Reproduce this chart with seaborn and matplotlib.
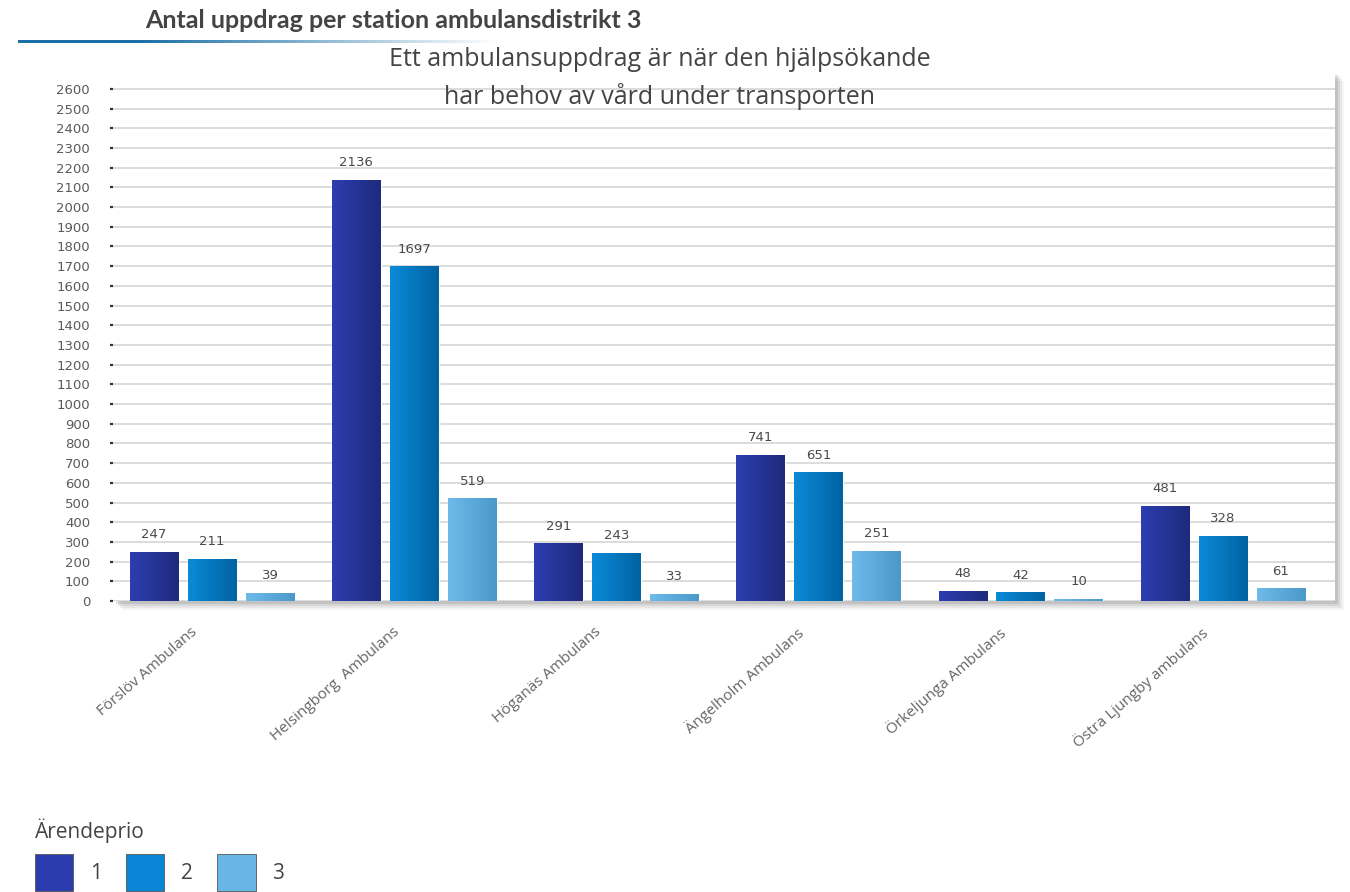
import numpy as np
import pandas as pd
import matplotlib
matplotlib.use("Agg")
from matplotlib import pyplot as plt
from matplotlib.patches import Rectangle, Patch
from matplotlib.colors import to_rgb
import seaborn as sns

stations = ['Förslöv Ambulans', 'Helsingborg  Ambulans', 'Höganäs Ambulans',
            'Ängelholm Ambulans', 'Örkeljunga Ambulans', 'Östra Ljungby ambulans']
prio_levels = ['1', '2', '3']
prio1 = [247, 2136, 291, 741, 48, 481]
prio2 = [211, 1697, 243, 651, 42, 328]
prio3 = [39, 519, 33, 251, 10, 61]
yticks = list(range(0, 2700, 100))

flat_colors = {'1': '#2a3cae', '2': '#0a84d4', '3': '#68b6e6'}
grad_colors = {'1': ('#2c3eb0', '#1e2a7c'),
               '2': ('#0b8ad8', '#0063a2'),
               '3': ('#6ebbea', '#4a99c8')}

rows = []
for prio, vals in zip(prio_levels, [prio1, prio2, prio3]):
    for st, v in zip(stations, vals):
        rows.append({'Station': st, 'Ärendeprio': prio, 'Antal': v})
df = pd.DataFrame(rows)

sns.set_theme(style='white')
plt.rcParams['font.family'] = ['DejaVu Sans']

fig = plt.figure(figsize=(13.5, 8.92), dpi=100)
W, H = 1350, 892
ax_left, ax_right, ax_bottom, ax_top = 113, 1335, 601, 72
ax = fig.add_axes([ax_left / W, 1 - ax_bottom / H,
                   (ax_right - ax_left) / W, (ax_bottom - ax_top) / H])
ax.set_zorder(2)

# plot area drop shadow
for off, alpha in [(9, 0.08), (7, 0.12), (5, 0.18), (3, 0.25)]:
    fig.patches.append(Rectangle(((ax_left + off) / W, (1 - ax_bottom / H) - off / H),
                                 (ax_right - ax_left) / W, (ax_bottom - ax_top) / H,
                                 transform=fig.transFigure, facecolor='#8a8a8a',
                                 alpha=alpha, edgecolor='none', zorder=-5))

sns.barplot(data=df, x='Station', y='Antal', hue='Ärendeprio', hue_order=prio_levels,
            palette=flat_colors, width=0.86, gap=0.16, saturation=1,
            legend=False, ax=ax, zorder=3)

xlim = (-0.49, 5.554)
ylim = (0, 2686)

# horizontal gradient on each bar
for prio, cont in zip(prio_levels, ax.containers):
    c0, c1 = (np.array(to_rgb(c)) for c in grad_colors[prio])
    t = np.linspace(0, 1, 40)[:, None]
    grad = (c0 * (1 - t) + c1 * t)[None, :, :]
    for bar in cont:
        x0, y0 = bar.get_xy()
        w, h = bar.get_width(), bar.get_height()
        ax.imshow(grad, extent=[x0, x0 + w, y0, y0 + h], aspect='auto',
                  interpolation='bilinear', zorder=3.5)
        bar.set_facecolor('none')
    ax.bar_label(cont, padding=8, fontsize=9.5, color='#4a4a4a')

ax.set_xlim(*xlim)
ax.set_ylim(*ylim)
ax.set_facecolor('white')
ax.set_yticks(yticks)
ax.set_yticklabels([str(v) for v in yticks], fontsize=9.5, color='#5a5a5a')
ax.yaxis.grid(True, color='#d9d9d9', linewidth=1.3, zorder=0)
ax.set_axisbelow(True)
ax.tick_params(axis='y', length=2.5, width=1.6, color='#333333', pad=14, left=True)
ax.tick_params(axis='x', length=0, pad=6)
for s in ax.spines.values():
    s.set_visible(False)
ax.set_xlabel('')
ax.set_ylabel('')

ax.set_xticks(range(len(stations)))
ax.set_xticklabels(stations, rotation=41, ha='right', va='top', rotation_mode='anchor',
                   fontsize=11, color='#666666', family='Open Sans')
offset = matplotlib.transforms.ScaledTranslation(-22 / 100, -15 / 100, fig.dpi_scale_trans)
for lbl in ax.get_xticklabels():
    lbl.set_transform(lbl.get_transform() + offset)

# header title with gradient underline
fig.text(145 / W, 1 - 20 / H, 'Antal uppdrag per station ambulansdistrikt 3',
         fontsize=18, fontweight='bold', color='#444444', family='Lato',
         ha='left', va='center')
line_ax = fig.add_axes([18 / W, 1 - 43 / H, 480 / W, 3.5 / H])
tt = np.linspace(0, 1, 200)
base = np.array(to_rgb('#1b6fa6'))
fade = np.clip((tt - 0.25) / 0.75, 0, 1)[:, None]
line_img = base * (1 - fade) + np.ones(3) * fade
line_ax.imshow(line_img[None, :, :], aspect='auto', extent=[0, 1, 0, 1])
line_ax.axis('off')

fig.text(660 / W, 1 - 59 / H, 'Ett ambulansuppdrag är när den hjälpsökande',
         fontsize=18, color='#444444', family='Open Sans', ha='center', va='center',
         zorder=5)
fig.text(660 / W, 1 - 96 / H, 'har behov av vård under transporten',
         fontsize=18, color='#444444', family='Open Sans', ha='center', va='center',
         zorder=5)

# legend
handles = [Patch(facecolor=flat_colors[p], edgecolor='#555555', linewidth=0.6)
           for p in prio_levels]
leg = fig.legend(handles, prio_levels, title='Ärendeprio', ncol=3,
                 loc='lower left', bbox_to_anchor=(16 / W, -18 / H),
                 frameon=False, title_fontsize=15,
                 handlelength=1.85, handleheight=2.4, handletextpad=0.8,
                 columnspacing=1.15, alignment='left',
                 prop={'family': 'Open Sans', 'size': 15})
leg.get_title().set_color('#444444')
leg.get_title().set_family('Open Sans')
for txt in leg.get_texts():
    txt.set_color('#444444')

fig.savefig('out.png', dpi=100, facecolor='white')
